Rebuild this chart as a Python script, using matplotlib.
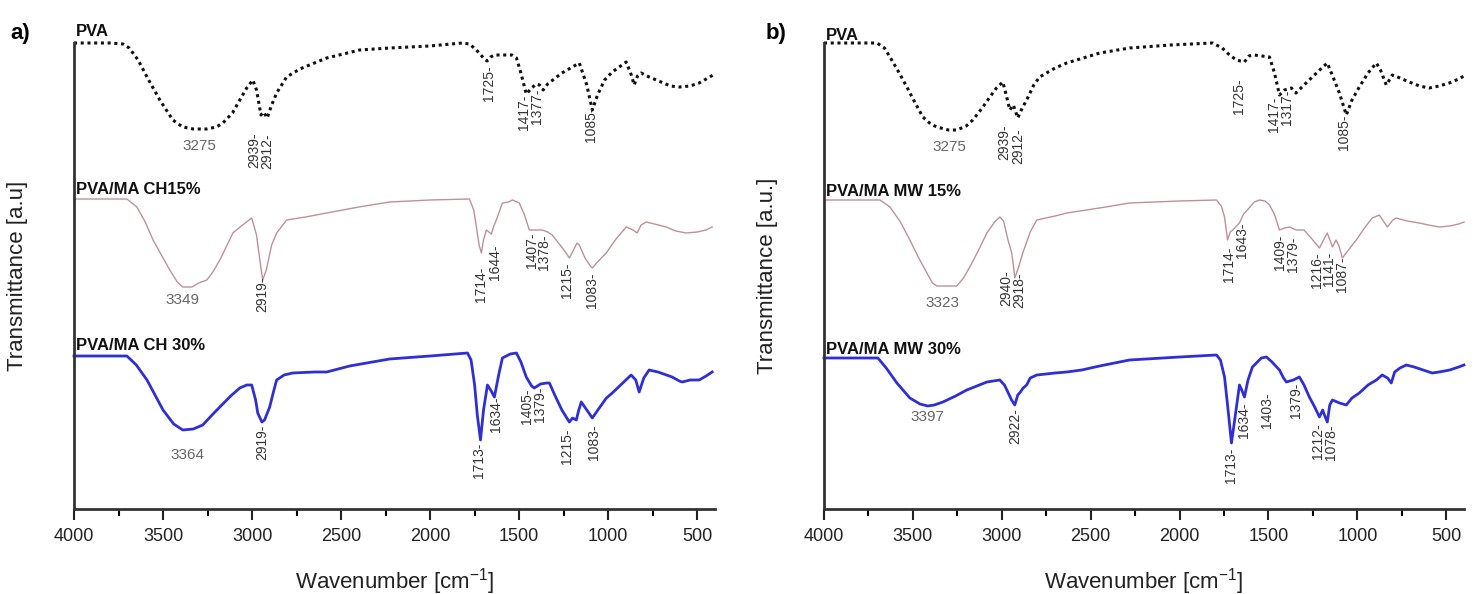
import numpy as np
import matplotlib
matplotlib.use('Agg')
import matplotlib.pyplot as plt
from matplotlib.ticker import MultipleLocator

plt.rcParams['font.family'] = ['Liberation Sans', 'DejaVu Sans']
plt.rcParams['mathtext.default'] = 'regular'

# ---------------- panel a) : PVA / MA CH ----------------
wn_pva_a = [4000, 3800, 3725, 3690, 3640, 3590, 3518, 3445, 3390, 3330, 3254, 3200, 3164, 3110, 3069, 3030, 2996,
            2975, 2950, 2935, 2915, 2890, 2862, 2806, 2732, 2650, 2581, 2396, 2228, 2003, 1820, 1779, 1740, 1700,
            1680, 1660, 1640, 1540, 1515, 1490, 1460, 1430, 1403, 1385, 1365, 1340, 1260, 1162, 1120, 1089, 1060,
            1020, 977, 930, 899, 870, 854, 835, 815, 770, 730, 650, 601, 540, 489, 440, 400]
tr_pva_a = [467, 467, 466, 462, 450, 433, 410, 390, 383, 381, 381, 383, 387, 397, 410, 422, 430,
            420, 395, 398, 392, 405, 417, 433, 441, 447, 452, 460, 462, 464, 467, 466, 460, 452,
            449, 453, 455, 455, 452, 437, 416, 422, 426, 425, 420, 426, 437, 447, 425, 400, 415,
            430, 438, 444, 448, 435, 425, 434, 437, 433, 430, 424, 423, 424, 427, 432, 436]

wn_ch15 = [4000, 3703, 3647, 3600, 3556, 3500, 3462, 3420, 3389, 3338, 3300, 3254, 3220, 3181, 3140, 3108, 3060,
           3002, 2975, 2950, 2940, 2920, 2890, 2862, 2806, 2700, 2581, 2400, 2228, 2000, 1779, 1755, 1740, 1725,
           1712, 1700, 1684, 1670, 1656, 1640, 1628, 1594, 1560, 1538, 1499, 1470, 1443, 1400, 1370, 1340, 1314,
           1270, 1240, 1218, 1195, 1175, 1162, 1130, 1100, 1089, 1060, 1011, 960, 899, 860, 837, 815, 787, 740,
           675, 620, 562, 500, 450, 416]
tr_ch15 = [311, 311, 303, 288, 270, 252, 240, 228, 223, 223, 227, 230, 238, 250, 265, 277, 284,
           292, 275, 242, 230, 240, 265, 277, 290, 293, 297, 303, 308, 310, 311, 300, 283, 265,
           257, 270, 280, 278, 276, 285, 290, 307, 308, 310, 307, 295, 280, 280, 280, 278, 275,
           265, 258, 252, 260, 267, 265, 252, 244, 242, 248, 257, 270, 283, 280, 277, 285, 288, 286,
           283, 279, 277, 278, 280, 283]

wn_ch30 = [4000, 3703, 3650, 3590, 3500, 3440, 3389, 3330, 3277, 3230, 3181, 3120, 3069, 3030, 3002, 2980, 2968,
           2945, 2930, 2901, 2880, 2862, 2820, 2772, 2650, 2581, 2452, 2228, 2000, 1790, 1770, 1750, 1735, 1717,
           1700, 1678, 1660, 1639, 1615, 1594, 1550, 1515, 1490, 1460, 1430, 1415, 1380, 1345, 1330, 1300, 1260,
           1218, 1200, 1179, 1165, 1151, 1120, 1089, 1050, 1010, 977, 930, 871, 845, 826, 800, 770, 720, 641,
           600, 584, 540, 489, 450, 416]
tr_ch30 = [154, 154, 145, 130, 100, 86, 80, 81, 85, 94, 103, 114, 122, 125, 125, 110, 97,
           88, 90, 103, 118, 130, 135, 137, 138, 138, 144, 151, 154, 157, 150, 125, 95, 70,
           100, 125, 120, 113, 135, 152, 156, 157, 148, 133, 124, 122, 126, 127, 127, 115, 100,
           88, 92, 90, 100, 108, 100, 92, 102, 112, 117, 125, 135, 130, 118, 132, 140, 138, 133,
           129, 128, 130, 130, 134, 138]

# ---------------- panel b) : PVA / MA MW ----------------
wn_pva_b = [4000, 3702, 3660, 3629, 3580, 3534, 3490, 3444, 3400, 3365, 3300, 3253, 3200, 3163, 3110, 3067, 3030,
            2994, 2975, 2955, 2935, 2910, 2885, 2860, 2820, 2787, 2700, 2635, 2449, 2281, 2050, 1815, 1760, 1719,
            1680, 1635, 1610, 1580, 1494, 1466, 1438, 1410, 1371, 1345, 1300, 1253, 1200, 1169, 1130, 1101, 1062,
            1030, 989, 940, 893, 870, 837, 803, 760, 708, 650, 596, 540, 483, 430, 400]
tr_pva_b = [467, 467, 462, 453, 438, 423, 408, 393, 386, 383, 380, 380, 384, 390, 402, 413, 422,
            428, 415, 400, 405, 392, 402, 410, 425, 433, 442, 447, 457, 462, 465, 467, 462, 455,
            450, 448, 454, 455, 453, 437, 415, 420, 422, 417, 425, 433, 442, 447, 430, 417, 395,
            410, 423, 437, 447, 440, 425, 435, 432, 428, 424, 422, 424, 427, 431, 434]

wn_mw15 = [4000, 3685, 3629, 3570, 3517, 3470, 3421, 3390, 3365, 3253, 3215, 3180, 3130, 3084, 3040, 3011, 2990,
           2965, 2944, 2935, 2927, 2905, 2882, 2840, 2803, 2700, 2635, 2450, 2281, 2000, 1792, 1765, 1747, 1730,
           1715, 1700, 1680, 1663, 1640, 1618, 1580, 1551, 1520, 1494, 1465, 1438, 1410, 1382, 1343, 1300, 1260,
           1213, 1190, 1169, 1150, 1140, 1120, 1105, 1084, 1050, 1006, 960, 916, 876, 850, 831, 800, 781, 720,
           652, 600, 539, 480, 430, 400]
tr_mw15 = [310, 310, 303, 288, 270, 253, 237, 227, 224, 224, 232, 243, 260, 277, 288, 293, 289,
           270, 257, 245, 232, 243, 257, 278, 290, 294, 297, 302, 307, 309, 310, 304, 293, 270,
           278, 280, 284, 287, 296, 300, 308, 310, 309, 305, 295, 280, 282, 283, 280, 280, 272,
           262, 270, 277, 268, 263, 270, 265, 252, 260, 270, 282, 292, 295, 288, 283, 290, 292, 289,
           287, 285, 283, 284, 286, 288]

wn_mw30 = [4000, 3697, 3650, 3590, 3517, 3460, 3416, 3380, 3331, 3260, 3197, 3140, 3084, 3011, 2985, 2966, 2945,
           2927, 2910, 2895, 2880, 2860, 2840, 2803, 2700, 2635, 2550, 2450, 2281, 2000, 1792, 1770, 1747, 1730,
           1708, 1690, 1663, 1650, 1635, 1615, 1590, 1540, 1511, 1480, 1438, 1415, 1399, 1360, 1326, 1300, 1270,
           1240, 1213, 1195, 1185, 1169, 1155, 1140, 1100, 1062, 1030, 989, 940, 893, 860, 830, 809, 790, 760,
           725, 680, 630, 579, 540, 480, 430, 400]
tr_mw30 = [152, 152, 142, 127, 112, 106, 104, 105, 108, 114, 120, 124, 128, 130, 125, 118, 110,
           105, 115, 118, 122, 125, 132, 135, 137, 138, 140, 144, 150, 153, 155, 150, 133, 105,
           67, 90, 125, 120, 113, 130, 143, 152, 153, 148, 140, 132, 128, 130, 133, 125, 113,
           103, 93, 100, 95, 88, 105, 110, 107, 105, 112, 117, 125, 130, 135, 132, 127, 138, 142,
           145, 143, 140, 137, 138, 140, 143, 145]

# peak labels: (text, wavenumber, transmittance at label top)
peaks_a = [('2939-', 2986, 378), ('2912-', 2914, 377), ('1725-', 1667, 445), ('1417-', 1472, 415),
           ('1377-', 1400, 422), ('1085-', 1095, 403),
           ('2919-', 2940, 233), ('1714-', 1712, 243), ('1644-', 1638, 265), ('1407-', 1430, 277),
           ('1378-', 1358, 275), ('1215-', 1230, 247), ('1083-', 1089, 238),
           ('2919-', 2940, 85), ('1713-', 1723, 67), ('1634-', 1628, 113), ('1405-', 1454, 122),
           ('1379-', 1382, 123), ('1215-', 1230, 82), ('1083-', 1078, 85)]
bands_a = [('3275', 3294, 364), ('3349', 3389, 210), ('3364', 3361, 55)]

peaks_b = [('2939-', 2984, 385), ('2912-', 2910, 382), ('1725-', 1663, 432), ('1417-', 1468, 413),
           ('1317-', 1394, 420), ('1085-', 1073, 395),
           ('2940-', 2974, 240), ('2918-', 2900, 238), ('1714-', 1724, 263), ('1643-', 1650, 287),
           ('1409-', 1434, 275), ('1379-', 1360, 273), ('1216-', 1228, 257), ('1141-', 1157, 258),
           ('1087-', 1086, 253),
           ('2922-', 2927, 102), ('1713-', 1708, 62), ('1634-', 1635, 107), ('1403-', 1506, 117),
           ('1379-', 1343, 127), ('1212-', 1224, 87), ('1078-', 1150, 85)]
bands_b = [('3275', 3292, 363), ('3323', 3331, 207), ('3397', 3416, 93)]

names_a = [('PVA', 479), ('PVA/MA CH15%', 320), ('PVA/MA CH 30%', 164)]
names_b = [('PVA', 474), ('PVA/MA MW 15%', 318), ('PVA/MA MW 30%', 161)]

fig = plt.figure(figsize=(14.77, 5.94), dpi=100)
ax_a = fig.add_axes([74 / 1477, 85 / 594, 641 / 1477, 466 / 594])
ax_b = fig.add_axes([824 / 1477, 85 / 594, 640 / 1477, 466 / 594])

panels = [
    (ax_a, [(wn_pva_a, tr_pva_a), (wn_ch15, tr_ch15), (wn_ch30, tr_ch30)], peaks_a, bands_a, names_a,
     'Transmittance [a.u]', 'a)', 20),
    (ax_b, [(wn_pva_b, tr_pva_b), (wn_mw15, tr_mw15), (wn_mw30, tr_mw30)], peaks_b, bands_b, names_b,
     'Transmittance [a.u.]', 'b)', 776),
]

for ax, spectra, peaks, bands, names, ylab, letter, lx in panels:
    (w1, t1), (w2, t2), (w3, t3) = spectra
    ax.plot(w1, t1, color='#111111', lw=2.2, ls=(0, (1, 1.2)), clip_on=False)
    ax.plot(w2, t2, color='#c09098', lw=1.0, clip_on=False)
    ax.plot(w3, t3, color='#2f2fd6', lw=2.0, clip_on=False)

    for txt, w, t in peaks:
        ax.text(w, t, txt, rotation=90, ha='center', va='top', fontsize=10, color='#333333')
    for txt, w, t in bands:
        ax.text(w, t, txt, ha='center', va='center', fontsize=11, color='#666666')
    for txt, t in names:
        ax.text(3990, t, txt, ha='left', va='center', fontsize=12, fontweight='bold',
                color='#111111', clip_on=False)

    ax.set_xlim(4000, 400)
    ax.set_ylim(1, 467)
    ax.xaxis.set_major_locator(MultipleLocator(500))
    ax.xaxis.set_minor_locator(MultipleLocator(250))
    ax.tick_params(axis='x', which='major', direction='out', length=8, width=1.5, pad=6,
                   labelsize=13, colors='#222222')
    ax.tick_params(axis='x', which='minor', direction='out', length=5, width=1.5)
    ax.set_yticks([])
    for s in ['top', 'right']:
        ax.spines[s].set_visible(False)
    for s in ['left', 'bottom']:
        ax.spines[s].set_linewidth(2)
        ax.spines[s].set_color('#333333')

    ax.set_xlabel(r'Wavenumber [cm$^{-1}$]', fontsize=16, color='#222222')
    ax.xaxis.set_label_coords(0.5, -0.122)
    ax.set_ylabel(ylab, fontsize=16, color='#222222')
    ax.yaxis.set_label_coords(-0.072, 0.5)

    fig.text(lx / 1477, 1 - 33 / 594, letter, fontsize=16, fontweight='bold', ha='center', va='center')

fig.savefig('out.png', dpi=100)
